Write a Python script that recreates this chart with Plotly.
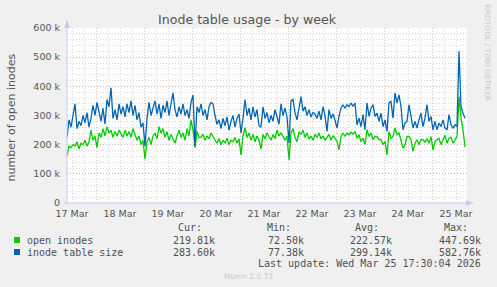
import pandas as pd
import plotly.graph_objects as go

# ---------------- data (values in thousands, hourly samples) ----------------
start_time = "2026-03-17 09:30"
open_inodes_k = [
    162, 195, 190, 200, 195, 210, 185, 205, 200, 215, 195, 210, 250, 215, 230, 190, 240, 225, 255, 230,
    262, 240, 250, 225, 245, 230, 250, 235, 225, 250, 230, 245, 225, 255, 235, 215, 230, 200, 215, 150,
    210, 225, 200, 230, 240, 220, 262, 240, 255, 225, 245, 215, 235, 220, 205, 230, 250, 225, 240, 215,
    255, 230, 285, 250, 190, 245, 225,
    225, 235, 215, 230, 220, 240, 228, 215, 205, 220, 200, 215, 205, 222, 200, 215, 210, 225, 205, 220,
    165, 230, 258, 225, 240, 215, 235, 210, 230, 215, 185, 235, 220, 240, 225, 215, 235, 220, 250, 230,
    240, 225, 215, 230, 148, 240, 255, 225, 210, 245, 235, 250, 225, 240, 220, 230, 215, 235, 225, 240,
    220, 230, 215, 225, 235, 215, 230,
    222, 211, 182, 228, 240, 228, 240, 234, 243, 236, 245, 222, 234, 211, 222, 200, 251, 228, 240, 217,
    228, 228, 217, 217, 200, 211, 165, 245, 222, 228, 257, 234, 240, 217, 188, 200, 228, 228, 217, 177,
    205, 217, 200, 217, 217, 209, 220, 205, 228, 182, 211, 217, 222, 200, 217, 232, 205, 222, 225, 205,
    217, 228, 365, 290, 251, 192,
]
inode_table_k = [
    225, 285, 260, 300, 340, 255, 280, 265, 300, 275, 310, 260, 290, 335, 300, 345, 310, 280, 325, 270,
    355, 330, 395, 290, 320, 285, 340, 305, 330, 295, 340, 310, 350, 300, 335, 285, 310, 260, 275, 195,
    290, 345, 300, 330, 350, 305, 340, 290, 335, 310, 350, 300, 345, 378, 320, 295, 330, 305, 340, 300,
    320, 290, 345, 370, 195, 330, 310,
    340, 300, 320, 285, 330, 345, 340, 300, 270, 285, 255, 290, 265, 295, 250, 280, 300, 260, 290, 305,
    240, 290, 355, 300, 325, 285, 330, 295, 320, 265, 260, 330, 290, 310, 275, 300, 280, 320, 290, 270,
    340, 300, 325, 295, 205, 350, 355, 310, 285, 320, 365, 315, 330, 300, 320, 295, 310, 305, 290, 315,
    285, 330, 300, 245, 320, 290, 305,
    285, 257, 297, 325, 337, 325, 337, 331, 343, 331, 343, 268, 291, 262, 303, 251, 343, 297, 325, 337,
    297, 308, 280, 308, 262, 285, 245, 343, 348, 291, 377, 343, 371, 331, 251, 274, 280, 337, 297, 257,
    280, 257, 285, 308, 262, 291, 337, 280, 297, 251, 280, 251, 274, 262, 285, 257, 251, 303, 268, 257,
    268, 262, 520, 330, 308, 291,
]
series_names = ["open inodes", "inode table size"]
series_colors = ["#00cc00", "#0066b3"]
y_tick_values = [0, 100000, 200000, 300000, 400000, 500000, 600000]
y_tick_labels = ["0", "100 k", "200 k", "300 k", "400 k", "500 k", "600 k"]
stat_headers = ["Cur:", "Min:", "Avg:", "Max:"]
stats_open = ["219.81k", "72.50k", "222.57k", "447.69k"]
stats_table = ["283.60k", "77.38k", "299.14k", "582.76k"]
last_update = "Last update: Wed Mar 25 17:30:04 2026"
title_text = "Inode table usage - by week"
y_title = "number of open inodes"
x_range = ["2026-03-17 09:30", "2026-03-25 17:30"]

times = pd.date_range(start_time, periods=len(open_inodes_k), freq="h")

# ---------------- figure ----------------
L, R, T, B = 67, 30, 28, 84
W, H = 497, 287
PW, PH = W - L - R, H - T - B


def px(x):
    return (x - L) / PW


def py(y):
    return (T + PH - y) / PH


fig = go.Figure()
for vals, name, col in zip([open_inodes_k, inode_table_k], series_names, series_colors):
    fig.add_trace(go.Scatter(
        x=times, y=[v * 1000 for v in vals], mode="lines", name=name,
        line=dict(color=col, width=1.3), hoverinfo="skip", showlegend=False,
    ))

major_grid = "rgba(230,150,150,0.6)"
minor_grid = "rgba(170,170,170,0.45)"
axis_col = "#c4cdf4"
txt = "#555555"

fig.update_layout(
    width=W, height=H,
    margin=dict(l=L, r=R, t=T, b=B, pad=0),
    paper_bgcolor="#f0f0f0", plot_bgcolor="#ffffff",
    font=dict(family="DejaVu Sans", size=9.5, color=txt),
    showlegend=False,
    xaxis=dict(
        type="date", range=x_range, tick0="2026-03-17 00:00", dtick=86400000,
        tickformat="%d %b", ticklabelmode="period", ticks="", ticklabelstandoff=3,
        showgrid=True, gridcolor=major_grid, griddash="1px,2px", gridwidth=1,
        minor=dict(dtick=6 * 3600000, tick0="2026-03-17 00:00", showgrid=True,
                   gridcolor=minor_grid, griddash="1px,2px", gridwidth=1),
        showline=False, zeroline=False, fixedrange=True,
        tickfont=dict(size=9.5, color=txt),
    ),
    yaxis=dict(
        range=[0, 600000], tickmode="array", tickvals=y_tick_values, ticktext=y_tick_labels,
        ticks="", ticklabelstandoff=6,
        showgrid=True, gridcolor=major_grid, griddash="1px,2px", gridwidth=1,
        minor=dict(dtick=20000, showgrid=True, gridcolor=minor_grid, griddash="1px,2px", gridwidth=1),
        showline=False, zeroline=False, fixedrange=True,
        tickfont=dict(size=9.5, color=txt),
    ),
)

shapes = [
    # y axis with arrow
    dict(type="line", xref="paper", yref="paper", x0=px(67), x1=px(67), y0=py(205), y1=py(25),
         line=dict(color=axis_col, width=1)),
    dict(type="path", xref="paper", yref="paper",
         path=f"M {px(64)} {py(28)} L {px(67)} {py(20)} L {px(70)} {py(28)} Z",
         fillcolor=axis_col, line=dict(width=0)),
    # x axis with arrow
    dict(type="line", xref="paper", yref="paper", x0=px(64), x1=px(468), y0=py(203), y1=py(203),
         line=dict(color=axis_col, width=1)),
    dict(type="path", xref="paper", yref="paper",
         path=f"M {px(466)} {py(200)} L {px(474)} {py(203)} L {px(466)} {py(206)} Z",
         fillcolor=axis_col, line=dict(width=0)),
]
# legend colour boxes
for row_y, col in zip([240, 252], series_colors):
    shapes.append(dict(type="rect", xref="paper", yref="paper",
                       x0=px(14), x1=px(20), y0=py(row_y + 3), y1=py(row_y - 3),
                       fillcolor=col, line=dict(width=0)))
fig.update_layout(shapes=shapes)

ann = []
ann.append(dict(text=title_text, x=px(247.5), y=py(19), xref="paper", yref="paper",
                xanchor="center", yanchor="middle", showarrow=False,
                font=dict(family="DejaVu Sans", size=12.6, color=txt)))
ann.append(dict(text=y_title, x=px(11), y=py(117.5), xref="paper", yref="paper",
                xanchor="center", yanchor="middle", showarrow=False, textangle=-90,
                font=dict(family="DejaVu Sans", size=11, color=txt)))
ann.append(dict(text="RRDTOOL / TOBI OETIKER", x=px(487.5), y=py(53), xref="paper", yref="paper",
                xanchor="center", yanchor="middle", showarrow=False, textangle=90,
                font=dict(family="DejaVu Sans", size=7.5, color="#c8c8c8")))

mono = dict(family="DejaVu Sans Mono", size=10, color="#505050")
header_right = [204, 293, 381, 470]
value_right = [217, 306, 394, 483]
for h, xr in zip(stat_headers, header_right):
    ann.append(dict(text=h, x=px(xr), y=py(227.5), xref="paper", yref="paper",
                    xanchor="right", yanchor="middle", showarrow=False, font=mono))
for row_y, name, stats in zip([240, 252], series_names, [stats_open, stats_table]):
    ann.append(dict(text=name, x=px(25), y=py(row_y), xref="paper", yref="paper",
                    xanchor="left", yanchor="middle", showarrow=False, font=mono))
    for s, xr in zip(stats, value_right):
        ann.append(dict(text=s, x=px(xr), y=py(row_y), xref="paper", yref="paper",
                        xanchor="right", yanchor="middle", showarrow=False, font=mono))
ann.append(dict(text=last_update, x=px(483), y=py(263.5), xref="paper", yref="paper",
                xanchor="right", yanchor="middle", showarrow=False, font=mono))
ann.append(dict(text="Munin 2.0.73", x=px(248), y=py(276), xref="paper", yref="paper",
                xanchor="center", yanchor="middle", showarrow=False,
                font=dict(family="DejaVu Sans", size=7.5, color="#c8c8c8")))
fig.update_layout(annotations=ann)

fig.write_html("out.html", config={"displayModeBar": False, "staticPlot": True})
